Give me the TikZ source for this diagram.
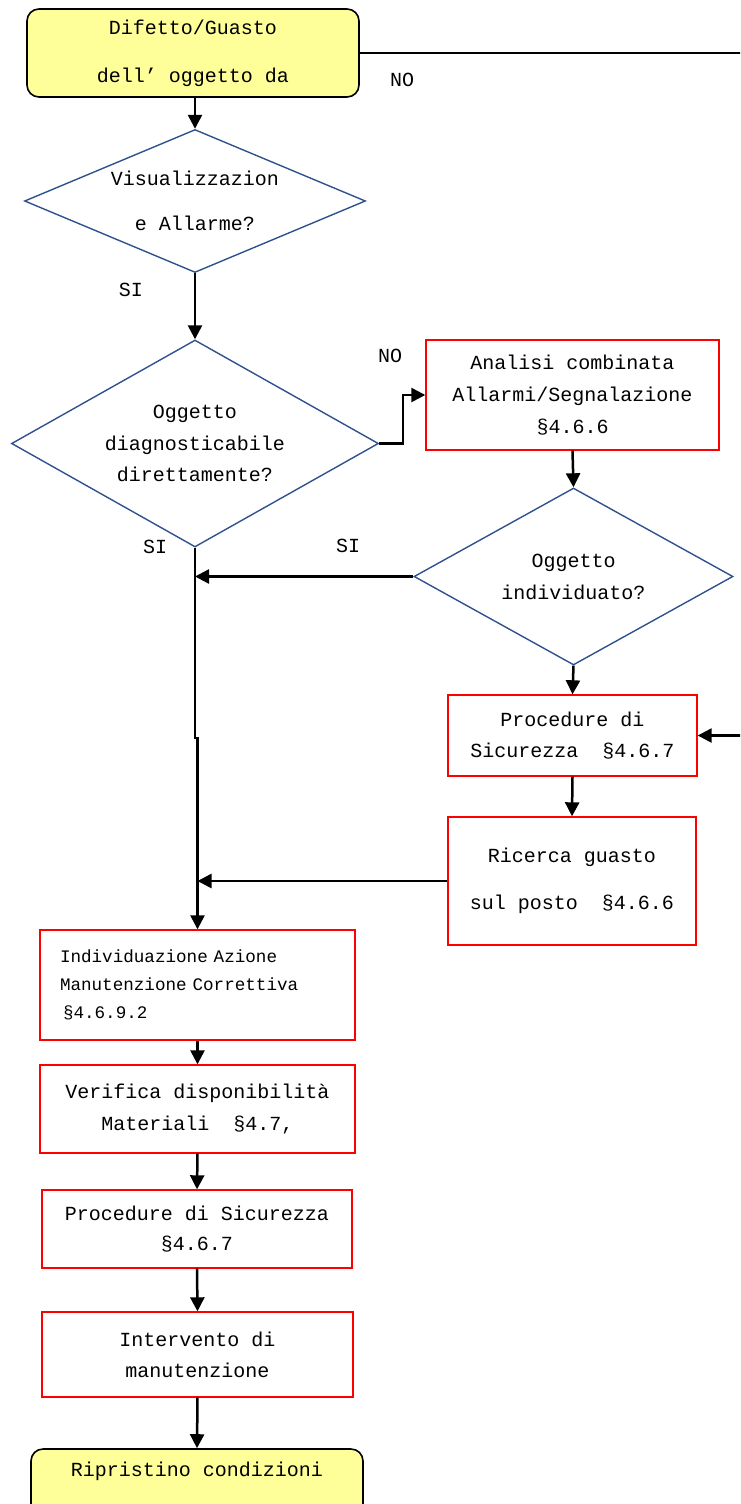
\documentclass[tikz,border=0pt]{standalone}
\usepackage{fontspec}
\setmainfont{Liberation Mono}
\usetikzlibrary{shapes.geometric,arrows.meta,positioning}
\definecolor{termfill}{RGB}{255,255,153}
\definecolor{decblue}{RGB}{47,82,143}
\newcommand{\fsz}[1]{\fontsize{20}{#1}\selectfont}
\tikzset{
  terminal/.style={draw=black, fill=termfill, rounded corners=12pt, line width=1.6pt, inner sep=0pt, align=center},
  decision/.style={draw=decblue, diamond, line width=1.4pt, inner sep=0pt, align=center},
  stepbox/.style={draw=red, line width=1.4pt, inner sep=0pt, align=center},
  flow/.style={line width=2.5pt, -{Triangle[length=14pt,width=14pt]}},
  tag/.style={inner sep=0pt, font=\fsz{24}},
}
\begin{document}
\begin{tikzpicture}[x=1pt,y=-1pt]
\clip (0,0) rectangle (740,1504);

\node[terminal, minimum width=332pt, minimum height=88pt, font=\fsz{48}] (start) at (193,53) {Difetto/Guasto\\dell’ oggetto da};
\node[decision, aspect=2.385, minimum width=341pt, minimum height=143pt, font=\fsz{45}] (vis) at (195,201) {Visualizzazion\\e Allarme?};
\node[decision, aspect=1.773, minimum width=367pt, minimum height=207pt, font=\fsz{31.5}] (diag) at (195,443.5) {Oggetto\\diagnosticabile\\direttamente?};
\node[stepbox, minimum width=293pt, minimum height=110pt, font=\fsz{32}] (ana) at (572.5,395) {Analisi combinata\\Allarmi/Segnalazione\\§4.6.6};
\node[decision, aspect=1.8, minimum width=319pt, minimum height=177pt, font=\fsz{32}] (indiv) at (573.5,576.5) {Oggetto\\individuato?};
\node[stepbox, minimum width=249pt, minimum height=81pt, font=\fsz{31}] (sic1) at (572.5,735.5) {Procedure di\\Sicurezza~~§4.6.7};
\node[stepbox, minimum width=248pt, minimum height=128pt, font=\fsz{47}] (ric) at (572,881) {Ricerca guasto\\sul posto~~§4.6.6};
\node[stepbox, text width=275pt, inner xsep=20pt, minimum height=110pt, align=left, font=\fontsize{17.6}{28}\selectfont] (azione) at (197.5,985) {Individuazione Azione\\Manutenzione Correttiva\\\hspace{3pt}§4.6.9.2};
\node[stepbox, minimum width=315pt, minimum height=88pt, font=\fsz{32}] (verif) at (197.5,1109) {Verifica disponibilità\\Materiali~~§4.7,};
\node[stepbox, minimum width=310pt, minimum height=78pt, font=\fsz{30}] (sic2) at (197,1229) {Procedure di Sicurezza\\§4.6.7};
\node[stepbox, minimum width=311pt, minimum height=85pt, font=\fsz{31}] (interv) at (197.5,1354.5) {Intervento di\\manutenzione};
\node[terminal, minimum width=332pt, minimum height=88pt, font=\fsz{48}] (ripr) at (197,1493) {Ripristino condizioni\\\mbox{}};

% yes / no labels
\node[tag] (noStart) at (402,80) {NO};
\node[tag] (siVis) at (131,290) {SI};
\node[tag] (noDiag) at (390,356) {NO};
\node[tag] (siDiag) at (155,547) {SI};
\node[tag] (siIndiv) at (348,546) {SI};

% connectors
\coordinate (outR) at (770,53);
\coordinate (jog) at (195,738);
\draw[flow] (start.east) -- (outR) |- (sic1.east);
\draw[flow] (vis.north |- start.south) -- (vis.north);
\draw[flow] (vis.south) -- (diag.north);
\draw[flow] (diag.east) -- ++(24,0) |- (ana.west);
\draw[flow] (ana.south) -- (indiv.north);
\draw[flow] (indiv.west) -- (indiv.west -| diag.south);
\draw[flow] (diag.south) -- (jog) -| (azione.north);
\draw[flow] (indiv.south) -- (sic1.north);
\draw[flow] (sic1.south) -- (ric.north);
\draw[flow] (ric.west) -- (ric.west -| azione.north);
\draw[flow] (azione.south) -- (verif.north);
\draw[flow] (verif.south) -- (sic2.north);
\draw[flow] (sic2.south) -- (interv.north);
\draw[flow] (interv.south) -- (ripr.north);
\end{tikzpicture}
\end{document}
